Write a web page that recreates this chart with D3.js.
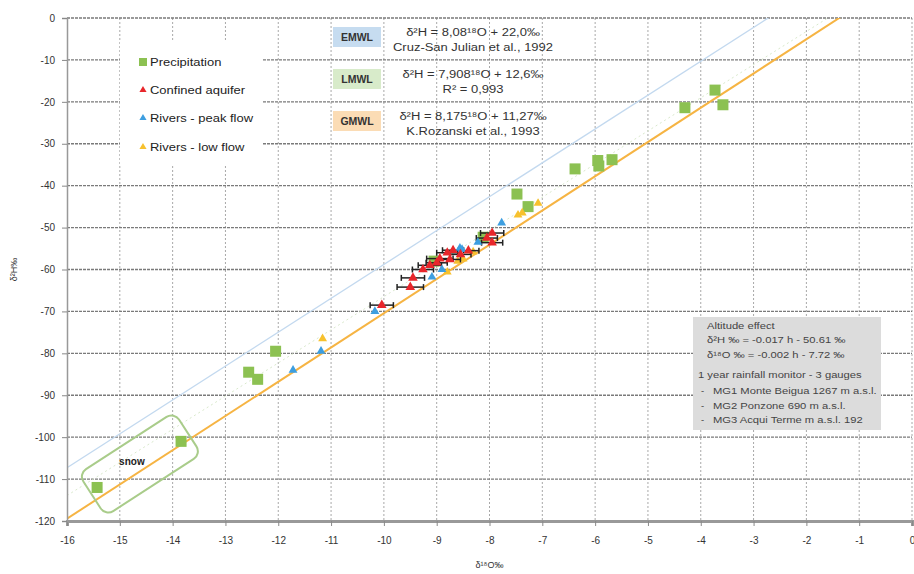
<!DOCTYPE html>
<meta charset="utf-8">
<script src="https://cdn.jsdelivr.net/npm/d3@7"></script>
<style>
  body { margin: 0; background: #fff; }
  svg { font-family: Arial, "Liberation Sans", sans-serif; }
</style>
<div id="my_dataviz"></div>
<script>

// data: [d18O, d2H]
var precipitation = [
  [-15.43, -112], [-13.84, -101], [-12.56, -84.5], [-12.39, -86.2], [-12.05, -79.5],
  [-9.05, -58], [-8.12, -52.3], [-7.48, -42], [-7.27, -45],
  [-6.38, -36], [-5.95, -34], [-5.93, -35.3], [-5.68, -33.8],
  [-4.3, -21.4], [-3.73, -17.2], [-3.58, -20.7]
];
// [d18O, d2H, error on d18O]
var confinedAquifer = [
  [-10.04, -68.5, 0.22], [-9.5, -64.2, 0.25], [-9.45, -62, 0.22], [-9.26, -60, 0.2],
  [-9.13, -59, 0.22], [-9.0, -58.4, 0.2], [-8.94, -57.4, 0.25], [-8.8, -56, 0.2],
  [-8.75, -57.6, 0.2], [-8.69, -55.4, 0.2], [-8.55, -56.4, 0.2], [-8.4, -55.5, 0.2],
  [-8.05, -52.5, 0.2], [-7.95, -51.3, 0.22], [-7.95, -53.6, 0.2]
];
var riversPeak = [
  [-11.72, -84], [-11.19, -79.5], [-10.17, -70], [-9.09, -61.8], [-8.9, -60],
  [-8.56, -54.9], [-8.52, -55.2], [-8.22, -53.5], [-7.77, -48.9]
];
var riversLow = [
  [-11.16, -76.5], [-8.8, -60.6], [-8.6, -58], [-8.5, -57.5], [-8.31, -55.8],
  [-7.46, -47], [-7.38, -46.5], [-7.08, -44.2]
];

// meteoric water lines: slope, intercept
var lineNames = ["EMWL", "LMWL", "GMWL"];
var lineSlopes = [8.08, 7.908, 8.17];
var lineIntercepts = [22.0, 12.6, 11.27];
var lineEquations = [
  ["δ²H = 8,08¹⁸O + 22,0‰", "Cruz-San Julian et al., 1992"],
  ["δ²H = 7,908¹⁸O + 12,6‰", "R² = 0,993"],
  ["δ²H = 8,175¹⁸O + 11,27‰", "K.Rozanski et al., 1993"]
];

var legendLabels = ["Precipitation", "Confined aquifer", "Rivers - peak flow", "Rivers - low flow"];
var xTicks = d3.range(-16, 1, 1);
var yTicks = d3.range(-120, 1, 10);

var altitudeText = [
  "Altitude effect",
  "δ²H ‰ = -0.017 h - 50.61 ‰",
  "δ¹⁸O ‰ = -0.002 h - 7.72 ‰",
  "1 year rainfall monitor - 3 gauges",
  "MG1 Monte Beigua 1267 m a.s.l.",
  "MG2 Ponzone 690 m a.s.l.",
  "MG3 Acqui Terme m a.s.l. 192"
];

var snowCenter = [-14.62, -106.4];

var margin = {top: 18, right: 2, bottom: 53, left: 67},
    width = 914 - margin.left - margin.right,
    height = 574 - margin.top - margin.bottom;

var svg = d3.select("#my_dataviz")
  .append("svg")
    .attr("width", 914)
    .attr("height", 574)
  .append("g")
    .attr("transform", "translate(" + margin.left + "," + margin.top + ")");

var x = d3.scaleLinear().domain([-16, 0]).range([0, width]);
var y = d3.scaleLinear().domain([-120, 0]).range([height, 0]);

svg.append("clipPath").attr("id", "clip")
  .append("rect").attr("width", width).attr("height", height);

// grid
svg.selectAll(".vgrid")
  .data(xTicks.slice(1))
  .enter().append("line")
    .attr("x1", function(d) { return x(d); })
    .attr("x2", function(d) { return x(d); })
    .attr("y1", 0).attr("y2", height)
    .attr("stroke", "#a8a8a8").attr("stroke-width", 1)
    .attr("stroke-dasharray", "2,2");
svg.selectAll(".hgrid")
  .data(yTicks.slice(1))
  .enter().append("line")
    .attr("x1", 0).attr("x2", width)
    .attr("y1", function(d) { return y(d); })
    .attr("y2", function(d) { return y(d); })
    .attr("stroke", "#7a7a7a").attr("stroke-width", 1.3)
    .attr("stroke-dasharray", "3,1");

// legend background hides the grid
svg.append("rect")
  .attr("x", 120 - margin.left).attr("y", 40 - margin.top)
  .attr("width", 143).attr("height", 125)
  .attr("fill", "#fff");

// water lines
var lineColors = ["#c3d9ef", "#d9e9cc", "#f6b443"];
var lineWidths = [1.3, 1, 2];
var lines = svg.append("g").attr("clip-path", "url(#clip)");
lineNames.forEach(function(n, i) {
  lines.append("line")
    .attr("x1", x(-16)).attr("y1", y(lineSlopes[i] * -16 + lineIntercepts[i]))
    .attr("x2", x(0)).attr("y2", y(lineIntercepts[i]))
    .attr("stroke", lineColors[i])
    .attr("stroke-width", lineWidths[i])
    .attr("stroke-dasharray", n == "LMWL" ? "2,3" : null);
});

// snow box, tilted along the GMWL
var angle = Math.atan2(y(lineSlopes[2]) - y(0), x(1) - x(0)) * 180 / Math.PI;
var snow = svg.append("g")
  .attr("transform", "translate(" + x(snowCenter[0]) + "," + y(snowCenter[1]) + ")");
snow.append("rect")
  .attr("transform", "rotate(" + angle + ")")
  .attr("x", -57).attr("y", -25).attr("width", 114).attr("height", 50)
  .attr("rx", 9)
  .attr("fill", "none").attr("stroke", "#a9cc8a").attr("stroke-width", 2);
snow.append("text")
  .attr("x", -8).attr("y", 1)
  .attr("text-anchor", "middle")
  .style("font-size", "10px").style("font-weight", "bold")
  .attr("fill", "#222")
  .text("snow");

// axes
var xAxis = svg.append("g")
  .attr("transform", "translate(0," + height + ")")
  .call(d3.axisBottom(x).tickValues(xTicks).tickSize(5).tickFormat(function(d) { return String(d); }));
xAxis.select(".domain").attr("stroke", "#999").attr("stroke-width", 3);
xAxis.selectAll(".tick line").attr("stroke", "#888");
xAxis.selectAll("text").attr("dy", "1.5em").attr("fill", "#333").style("font-size", "10px");

var yAxis = svg.append("g")
  .call(d3.axisLeft(y).tickValues(yTicks).tickSize(5).tickFormat(function(d) { return String(d); }));
yAxis.select(".domain").attr("stroke", "#999").attr("stroke-width", 1.5);
yAxis.selectAll(".tick line").attr("stroke", "#888");
yAxis.selectAll("text").attr("dx", "-0.4em").attr("fill", "#333").style("font-size", "10px");

svg.append("text")
  .attr("transform", "translate(" + (17 - margin.left) + "," + (height / 2) + ") rotate(-90)")
  .attr("text-anchor", "middle")
  .style("font-size", "9px").attr("fill", "#333")
  .text("δ²H‰");
svg.append("text")
  .attr("x", width / 2).attr("y", height + 47)
  .attr("text-anchor", "middle")
  .style("font-size", "9px").attr("fill", "#333")
  .text("δ¹⁸O‰");

// markers
var tri = d3.symbol().type(d3.symbolTriangle).size(34);
var pts = svg.append("g");

pts.selectAll(".prec")
  .data(precipitation)
  .enter().append("rect")
    .attr("x", function(d) { return x(d[0]) - 5.5; })
    .attr("y", function(d) { return y(d[1]) - 5.5; })
    .attr("width", 11).attr("height", 11)
    .attr("fill", "#8cc152");

pts.selectAll(".low")
  .data(riversLow)
  .enter().append("path")
    .attr("d", tri)
    .attr("transform", function(d) { return "translate(" + x(d[0]) + "," + y(d[1]) + ")"; })
    .attr("fill", "#f7c12e");

// error bars of the confined aquifer
var eb = pts.selectAll(".err")
  .data(confinedAquifer)
  .enter().append("g");
eb.append("line")
  .attr("x1", function(d) { return x(d[0] - d[2]); })
  .attr("x2", function(d) { return x(d[0] + d[2]); })
  .attr("y1", function(d) { return y(d[1]); })
  .attr("y2", function(d) { return y(d[1]); })
  .attr("stroke", "#222").attr("stroke-width", 1.5);
eb.append("line")
  .attr("x1", function(d) { return x(d[0] - d[2]); })
  .attr("x2", function(d) { return x(d[0] - d[2]); })
  .attr("y1", function(d) { return y(d[1]) - 3; })
  .attr("y2", function(d) { return y(d[1]) + 3; })
  .attr("stroke", "#222").attr("stroke-width", 1.5);
eb.append("line")
  .attr("x1", function(d) { return x(d[0] + d[2]); })
  .attr("x2", function(d) { return x(d[0] + d[2]); })
  .attr("y1", function(d) { return y(d[1]) - 3; })
  .attr("y2", function(d) { return y(d[1]) + 3; })
  .attr("stroke", "#222").attr("stroke-width", 1.5);

pts.selectAll(".peak")
  .data(riversPeak)
  .enter().append("path")
    .attr("d", tri)
    .attr("transform", function(d) { return "translate(" + x(d[0]) + "," + y(d[1]) + ")"; })
    .attr("fill", "#3d9ee0");

pts.selectAll(".aq")
  .data(confinedAquifer)
  .enter().append("path")
    .attr("d", d3.symbol().type(d3.symbolTriangle).size(40))
    .attr("transform", function(d) { return "translate(" + x(d[0]) + "," + y(d[1]) + ")"; })
    .attr("fill", "#e8262b");

// text in the original looks stretched sideways
var stretch = 1.18;

// legend
var legendColors = ["#8cc152", "#e8262b", "#3d9ee0", "#f7c12e"];
var legendY = [62, 90, 118, 147];
legendLabels.forEach(function(l, i) {
  var g = svg.append("g")
    .attr("transform", "translate(" + (143 - margin.left) + "," + (legendY[i] - margin.top) + ")");
  if (i == 0) {
    g.append("rect").attr("x", -4).attr("y", -4).attr("width", 8).attr("height", 8)
      .attr("fill", legendColors[i]);
  } else {
    g.append("path").attr("d", d3.symbol().type(d3.symbolTriangle).size(22))
      .attr("fill", legendColors[i]);
  }
  g.append("text")
    .attr("transform", "translate(7,4) scale(" + stretch + ",1)")
    .style("font-size", "11px").attr("fill", "#222")
    .text(l);
});

// equation table (its row borders are the grid lines)
var tbl = svg.append("g")
  .attr("transform", "translate(" + (325 - margin.left) + "," + (21 - margin.top) + ")");
var rowY = [0, 42, 84];
var labelBg = ["#c6dcf0", "#d8ebca", "#fbdcb5"];
lineNames.forEach(function(n, i) {
  tbl.append("rect")
    .attr("x", 8).attr("y", rowY[i] + 6).attr("width", 48).attr("height", 20)
    .attr("fill", labelBg[i]);
  tbl.append("text")
    .attr("x", 32).attr("y", rowY[i] + 20)
    .attr("text-anchor", "middle")
    .style("font-size", "10.5px").style("font-weight", "bold").attr("fill", "#333")
    .text(n);
  [0, 1].forEach(function(k) {
    tbl.append("text")
      .attr("transform", "translate(148," + (rowY[i] + 15 + k * 15) + ") scale(" + stretch + ",1)")
      .attr("text-anchor", "middle")
      .style("font-size", "11px").attr("fill", "#333")
      .text(lineEquations[i][k]);
  });
});

// altitude box
var alt = svg.append("g")
  .attr("transform", "translate(" + (693 - margin.left) + "," + (317 - margin.top) + ")");
alt.append("rect").attr("width", 188).attr("height", 113).attr("fill", "#dcdcdc");
var altY = [12, 26, 41, 61, 77, 92, 106];
altitudeText.forEach(function(t, i) {
  if (i > 3) {
    alt.append("text")
      .attr("x", 8).attr("y", altY[i])
      .style("font-size", "9.5px").attr("fill", "#444")
      .text("-");
  }
  alt.append("text")
    .attr("transform", "translate(" + (i < 3 ? 14 : (i == 3 ? 5 : 20)) + "," + altY[i] + ") scale(" + stretch + ",1)")
    .style("font-size", "9.5px").attr("fill", "#444")
    .text(t);
});

</script>
